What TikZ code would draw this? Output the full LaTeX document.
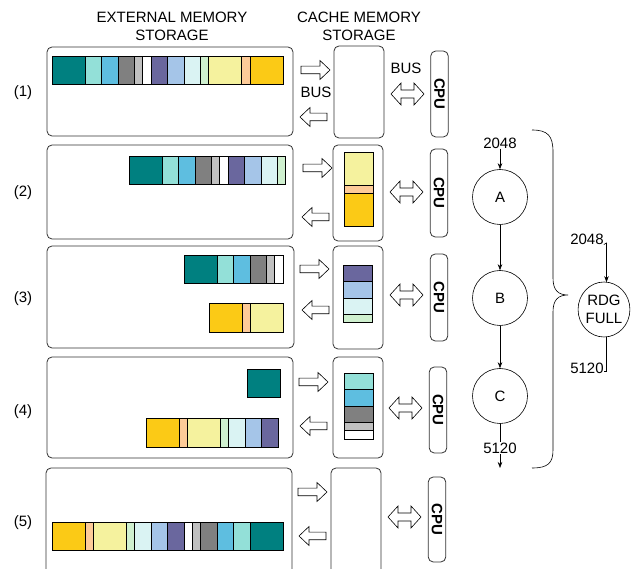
\documentclass[tikz,border=0pt]{standalone}
\usepackage{fontspec}
\setmainfont{Liberation Sans}
\usetikzlibrary{arrows.meta,shapes.geometric}
\definecolor{cteal}{HTML}{008080}
\definecolor{caqua}{HTML}{93E0D8}
\definecolor{cblue}{HTML}{5EBEE0}
\definecolor{cgray}{HTML}{808080}
\definecolor{clgray}{HTML}{C0C0C0}
\definecolor{cwhite}{HTML}{FFFFFF}
\definecolor{cpurple}{HTML}{6A679E}
\definecolor{clblue}{HTML}{A5C5E8}
\definecolor{clcyan}{HTML}{DAF3F3}
\definecolor{clgreen}{HTML}{CFF0CF}
\definecolor{cyellow}{HTML}{F5F29E}
\definecolor{cpeach}{HTML}{FDCB98}
\definecolor{cgold}{HTML}{FBCA16}
\definecolor{boxline}{HTML}{333333}
\newcommand\hsegs[4]{%
  \foreach \c/\w [remember=\nx as \px (initially #1), evaluate=\w as \nx using {\px+\w*8.25}] in {#4}
    {\draw[seg, fill=\c] (\px,#2) rectangle (\nx,#3);}}
\newcommand\vsegs[4]{%
  \foreach \c/\w [remember=\ny as \py (initially #3), evaluate=\w as \ny using {\py+\w*8.25}] in {#4}
    {\draw[seg, fill=\c] (#1,\py) rectangle (#2,\ny);}}
\tikzset{
  seg/.style={draw=black, line width=0.8pt},
  box/.style={draw=boxline, line width=0.8pt, rounded corners=5pt},
  blk/.style={draw=black, line width=0.6pt, fill=white},
  lbl/.style={font=\fontsize{15}{18}\selectfont, inner sep=0pt, align=center},
  cpu/.style={draw=boxline, line width=0.8pt, rounded corners=5pt, rotate=-90, minimum height=17.5pt, inner sep=0pt, font=\fontsize{15}{18}\selectfont\bfseries},
  flow/.style={circle, draw=black, line width=0.6pt, minimum size=55pt, inner sep=0pt, font=\fontsize{15}{18}\selectfont, align=center},
  rdg/.style={ellipse, draw=black, line width=0.6pt, minimum width=50pt, minimum height=55pt, inner sep=0pt, font=\fontsize{15}{18}\selectfont, align=center},
  con/.style={draw=black, line width=0.6pt, -{Stealth[length=6pt,width=4.5pt]}},
  rarr/.pic={\draw[blk] (0,-3.8) -- (19,-3.8) -- (19,-9.5) -- (29,0) -- (19,9.5) -- (19,3.8) -- (0,3.8) -- cycle;},
  larr/.pic={\draw[blk] (0,0) -- (10,-9.5) -- (10,-3.8) -- (27,-3.8) -- (27,3.8) -- (10,3.8) -- (10,9.5) -- cycle;},
  darr/.pic={\draw[blk] (0,0) -- (10,-11) -- (10,-4) -- (23,-4) -- (23,-11) -- (33,0) -- (23,11) -- (23,4) -- (10,4) -- (10,11) -- cycle;}
}
\begin{document}
\begin{tikzpicture}[x=1pt,y=-1pt]
\clip (0,0) rectangle (638,569);
\fill[white] (0,0) rectangle (638,569);
% headers
\node[lbl] (hext) at (172,26) {EXTERNAL MEMORY\\STORAGE};
\node[lbl] (hcache) at (359,26) {CACHE MEMORY\\STORAGE};
% row labels
\node[lbl] (r1) at (23,93) {(1)};
\node[lbl] (r2) at (23,193) {(2)};
\node[lbl] (r3) at (23,299) {(3)};
\node[lbl] (r4) at (23,412) {(4)};
\node[lbl] (r5) at (23,523) {(5)};
% external boxes
\draw[box] (47,47) rectangle (293,136);
\draw[box] (47,145) rectangle (293,239);
\draw[box] (47,246) rectangle (294,348);
\draw[box] (47,357) rectangle (293,458);
\draw[box] (46,468) rectangle (292,590);
% cache boxes
\draw[box] (334,46) rectangle (384,138);
\draw[box] (333,145) rectangle (383,241);
\draw[box] (333,246) rectangle (383,349);
\draw[box] (333,357) rectangle (383,458);
\draw[box] (331,468) rectangle (381,590);
% CPU boxes
\node[cpu, minimum width=86pt] (cpu1) at (439.5,94) {CPU};
\node[cpu, minimum width=88pt] (cpu2) at (439,193) {CPU};
\node[cpu, minimum width=87pt] (cpu3) at (439,297.5) {CPU};
\node[cpu, minimum width=86pt] (cpu4) at (438,410) {CPU};
\node[cpu, minimum width=85pt] (cpu5) at (437,519.5) {CPU};
% bars row 1
\hsegs{52}{56}{84}{cteal/4,caqua/2,cblue/2,cgray/2,clgray/1,cwhite/1,cpurple/2,clblue/2,clcyan/2,clgreen/1,cyellow/4,cpeach/1,cgold/4}
% row 2
\hsegs{129}{156}{184}{cteal/4,caqua/2,cblue/2,cgray/2,clgray/1,cwhite/1,cpurple/2,clblue/2,clcyan/2,clgreen/1}
\vsegs{344}{373}{152}{cyellow/4,cpeach/1,cgold/4}
% row 3
\hsegs{184}{255}{283}{cteal/4,caqua/2,cblue/2,cgray/2,clgray/1,cwhite/1}
\hsegs{209}{303}{332}{cgold/4,cpeach/1,cyellow/4}
\vsegs{343}{372}{265}{cpurple/2,clblue/2,clcyan/2,clgreen/1}
% row 4
\draw[seg, fill=cteal] (247,369) rectangle (280,397);
\hsegs{146}{418}{447}{cgold/4,cpeach/1,cyellow/4,clgreen/1,clcyan/2,clblue/2,cpurple/2}
\vsegs{344}{373}{373}{caqua/2,cblue/2,cgray/2,clgray/1,cwhite/1}
% row 5
\hsegs{52}{522}{550}{cgold/4,cpeach/1,cyellow/4,clgreen/1,clcyan/2,clblue/2,cpurple/2,cwhite/1,clgray/1,cgray/2,cblue/2,caqua/2,cteal/4}
% bus arrows
\pic at (301,70) {rarr};
\pic at (300,117) {larr};
\pic at (391,94) {darr};
\pic at (303,168) {rarr};
\pic at (302,217) {larr};
\pic at (390,192) {darr};
\pic at (300,269) {rarr};
\pic at (302,310) {larr};
\pic at (390,295) {darr};
\pic at (299,382) {rarr};
\pic at (300,426) {larr};
\pic at (389,408) {darr};
\pic at (298,492) {rarr};
\pic at (299,536) {larr};
\pic at (388,517) {darr};
\node[lbl] (bus1) at (316,92) {BUS};
\node[lbl] (bus2) at (406,68) {BUS};
% flow graph
\node[lbl] (in1) at (500,143) {2048};
\node[flow] (A) at (500,197) {A};
\node[flow] (B) at (500,298) {B};
\node[flow] (C) at (500,396) {C};
\coordinate (end1) at (500,468);
\draw[con] (in1.south) -- (A.north);
\draw[con] (A) -- (B);
\draw[con] (B) -- (C);
\draw[con] (C.south) -- (end1);
\node[lbl, fill=white, inner sep=1pt] (out1) at (500,448) {5120};
% brace
\draw[line width=0.6pt] (532,130) .. controls (548,130) and (553,136) .. (553,152) -- (553,278) .. controls (553,290) and (558,295) .. (568,295) .. controls (558,295) and (553,300) .. (553,312) -- (553,450) .. controls (553,463) and (548,468) .. (532,468);
% RDG
\node[rdg] (R) at (604,309.5) {RDG\\FULL};
\node[lbl] (in2) at (587,239) {2048};
\node[lbl] (out2) at (587,368) {5120};
\coordinate (rin) at (606.5,243);
\coordinate (rtop) at (606.5,282.2);
\coordinate (rbot) at (606.5,336.8);
\coordinate (rend) at (606.5,371);
\draw[con] (in2.south east) -- (rin) -- (rtop);
\draw[line width=0.6pt] (rbot) -- (rend) -- (out2.east |- rend);
\end{tikzpicture}
\end{document}
